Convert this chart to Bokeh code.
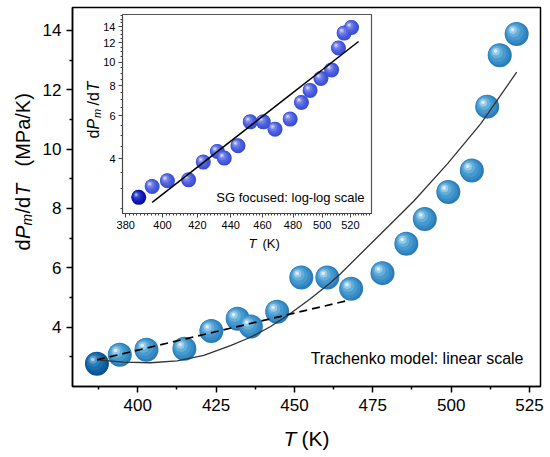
from bokeh.plotting import figure
from bokeh.models import Label, FixedTicker, Range1d, PrintfTickFormatter
from bokeh.layouts import column
from bokeh.embed import file_html
from bokeh.resources import INLINE
import math

# ---------------- data ----------------
T_K = [387.0, 394.3, 402.8, 414.9, 423.5, 431.9, 436.1, 444.5, 452.2, 460.5,
       468.1, 478.1, 485.7, 491.6, 499.1, 506.6, 511.5, 515.5, 520.9]
dPm_dT = [2.77, 3.07, 3.24, 3.27, 3.87, 4.28, 4.02, 4.52, 5.67, 5.67,
          5.29, 5.82, 6.81, 7.64, 8.55, 9.28, 11.43, 13.16, 13.88]

model_T = [387.0, 395.5, 404.1, 412.6, 421.1, 429.6, 436.0, 442.4, 448.7,
           455.1, 461.0, 464.7, 477.5, 488.1, 498.8, 509.4, 520.9]
model_P = [2.90, 2.82, 2.80, 2.86, 3.05, 3.38, 3.66, 4.02, 4.46,
           4.96, 5.45, 5.80, 7.14, 8.25, 9.50, 10.85, 12.59]

linear_T = [387.0, 467.1]
linear_P = [2.90, 4.90]

loglog_fit_T = [394.3, 526.0]
loglog_fit_P = [2.64, 12.15]

main_x_ticks = [400, 425, 450, 475, 500, 525]
main_y_ticks = [4, 6, 8, 10, 12, 14]
inset_x_ticks = [380, 400, 420, 440, 460, 480, 500, 520]
inset_y_ticks = [4, 6, 8, 10, 12, 14]

FONT = "Liberation Sans"


def no_align(fig):
    if hasattr(fig, "frame_align"):
        fig.frame_align = False


# ---------------- main figure ----------------
W, H = 550, 457
ML, MR, MT, MB = 72, 10, 7, 71
fw, fh = W - ML - MR, H - MT - MB
x0, x1 = 379.2, 528.5
y0, y1 = 2.0, 14.77

p = figure(width=W, height=H, x_range=Range1d(x0, x1), y_range=Range1d(y0, y1),
           output_backend="svg", toolbar_location=None,
           min_border_left=ML, min_border_right=MR, min_border_top=MT, min_border_bottom=MB)
no_align(p)
p.xgrid.grid_line_color = None
p.ygrid.grid_line_color = None
p.outline_line_color = "black"
p.outline_line_width = 1.5
p.background_fill_color = "white"
p.border_fill_color = "white"

p.xaxis.ticker = FixedTicker(ticks=main_x_ticks,
                             minor_ticks=[387.5 + 25 * k for k in range(6)])
p.yaxis.ticker = FixedTicker(ticks=main_y_ticks, minor_ticks=[3, 5, 7, 9, 11, 13])
for ax in (p.xaxis[0], p.yaxis[0]):
    ax.major_tick_out = 6
    ax.major_tick_in = 0
    ax.minor_tick_out = 3
    ax.minor_tick_in = 0
    ax.axis_line_width = 1.5
    ax.major_tick_line_width = 1.5
    ax.minor_tick_line_width = 1.5
    ax.axis_line_color = "black"
    ax.major_tick_line_color = "black"
    ax.minor_tick_line_color = "black"
    ax.major_label_text_font = FONT
    ax.major_label_text_font_size = "17px"
    ax.major_label_text_color = "black"
p.xaxis.major_label_standoff = 6
p.yaxis.major_label_standoff = 5

kx = (x1 - x0) / fw
ky = (y1 - y0) / fh

layers_main = [(1.00, 0.0, "#2c7cb8"), (0.88, 1.0, "#378cc5"), (0.72, 2.0, "#469acf"),
               (0.52, 3.0, "#64aeda"), (0.32, 3.8, "#98cae8"), (0.15, 4.2, "#dbeef8")]
layers_main_dark = [(1.00, 0.0, "#0a5391"), (0.88, 1.0, "#0f5fa1"), (0.72, 2.0, "#196cad"),
                    (0.52, 3.0, "#2c7eba"), (0.32, 3.8, "#5c9dce"), (0.15, 4.2, "#b0d2ea")]


def spheres_lin(fig, xs, ys, size, layers):
    for frac, off, col in layers:
        fig.scatter([x - off * kx for x in xs], [y + off * ky for y in ys],
                    marker="circle", size=size * frac, fill_color=col, line_color=None)


spheres_lin(p, T_K[1:], dPm_dT[1:], 24, layers_main)
spheres_lin(p, T_K[:1], dPm_dT[:1], 24, layers_main_dark)

p.line(model_T, model_P, line_color="#333333", line_width=1.3, line_join="round")
p.line(linear_T, linear_P, line_color="black", line_width=1.7, line_dash="8 5")

# ---------------- inset figure ----------------
IL, IT = 122, 14
ifw, ifh = 249, 199
IR, IB = 4, 39
IW, IH = IL + ifw + IR, IT + ifh + IB
ix0, ix1 = 378.3, 535.6
iy0, iy1 = 2.376, 15.7

q = figure(width=IW, height=IH, x_axis_type="log", y_axis_type="log",
           x_range=Range1d(ix0, ix1), y_range=Range1d(iy0, iy1),
           output_backend="svg", toolbar_location=None,
           min_border_left=IL, min_border_right=IR, min_border_top=IT, min_border_bottom=IB)
no_align(q)
q.margin = (-H, 0, 0, 0)
q.xgrid.grid_line_color = None
q.ygrid.grid_line_color = None
q.outline_line_color = "#555555"
q.outline_line_width = 1.2
q.background_fill_color = "white"
q.border_fill_alpha = 0.0

q.xaxis.ticker = FixedTicker(ticks=inset_x_ticks, minor_ticks=list(range(380, 536, 2)))
q.yaxis.ticker = FixedTicker(ticks=inset_y_ticks,
                             minor_ticks=[2.5 + 0.5 * k for k in range(27)])
for ax in (q.xaxis[0], q.yaxis[0]):
    ax.formatter = PrintfTickFormatter(format="%d")
    ax.major_tick_out = 4
    ax.major_tick_in = 0
    ax.minor_tick_out = 2
    ax.minor_tick_in = 0
    ax.axis_line_color = "#444444"
    ax.major_tick_line_color = "#444444"
    ax.minor_tick_line_color = "#444444"
    ax.axis_line_width = 1.0
    ax.major_label_text_font = FONT
    ax.major_label_text_font_size = "11px"
    ax.major_label_text_color = "black"
    ax.major_label_standoff = 3

dec_x = ifw / math.log10(ix1 / ix0)
dec_y = ifh / math.log10(iy1 / iy0)

layers_in = [(1.00, 0.0, "#3a4ed4"), (0.88, 0.6, "#4457da"), (0.72, 1.2, "#5364e0"),
             (0.52, 1.9, "#6d7de7"), (0.32, 2.4, "#9aa5f0"), (0.15, 2.6, "#d6dbfa")]
layers_in_dark = [(1.00, 0.0, "#0a0fa3"), (0.88, 0.6, "#0d16b2"), (0.72, 1.2, "#1723bf"),
                  (0.52, 1.9, "#2f3dc9"), (0.32, 2.4, "#5f6dda"), (0.15, 2.6, "#b0b7f0")]


def spheres_log(fig, xs, ys, size, layers):
    for frac, off, col in layers:
        fig.scatter([x * 10 ** (-off / dec_x) for x in xs], [y * 10 ** (off / dec_y) for y in ys],
                    marker="circle", size=size * frac, fill_color=col, line_color=None)


spheres_log(q, T_K[1:], dPm_dT[1:], 15, layers_in)
spheres_log(q, T_K[:1], dPm_dT[:1], 15, layers_in_dark)
q.line(loglog_fit_T, loglog_fit_P, line_color="black", line_width=1.5)

# ---------------- text overlay (page pixel coordinates) ----------------
t = figure(width=W, height=H, x_range=Range1d(0, W), y_range=Range1d(H, 0),
           output_backend="svg", toolbar_location=None,
           min_border_left=0, min_border_right=0, min_border_top=0, min_border_bottom=0,
           x_axis_location=None, y_axis_location=None)
no_align(t)
t.margin = (-IH, 0, 0, 0)
t.xgrid.grid_line_color = None
t.ygrid.grid_line_color = None
t.outline_line_color = None
t.background_fill_alpha = 0.0
t.border_fill_alpha = 0.0


def lab(text, x, y, size, style="normal", align="left", angle=0.0):
    t.add_layout(Label(x=x, y=y, text=text, text_font=FONT, text_font_size=f"{size}px",
                       text_font_style=style, text_align=align, text_baseline="middle",
                       angle=angle, angle_units="deg", text_color="black"))


# main y label: d P_m / d T   (MPa/K)
lab("d", 22, 250, 20, angle=90)
lab("P", 22, 238.5, 20, "italic", angle=90)
lab("m", 26, 225, 14, "italic", angle=90)
lab("/d", 22, 213, 20, angle=90)
lab("T", 22, 195.5, 20, "italic", angle=90)
lab("(MPa/K)", 22, 166, 20, angle=90)
# main x label
lab("T", 283, 438, 21, "italic")
lab("(K)", 301, 438, 21)
lab("Trachenko model: linear scale", 523, 358, 16, align="right")
# inset labels: d P_m /d T
lab("d", 93, 138, 16, angle=90)
lab("P", 93, 129, 16, "italic", angle=90)
lab("m", 96.5, 117.5, 11, "italic", angle=90)
lab("/d", 93, 105, 16, angle=90)
lab("T", 93, 91, 16, "italic", angle=90)
lab("T", 248, 243, 13, "italic")
lab("(K)", 262, 243, 13)
lab("SG focused: log-log scale", 364, 197, 13, align="right")

layout = column(p, q, t)
open("out.html", "w").write(file_html(layout, INLINE))
